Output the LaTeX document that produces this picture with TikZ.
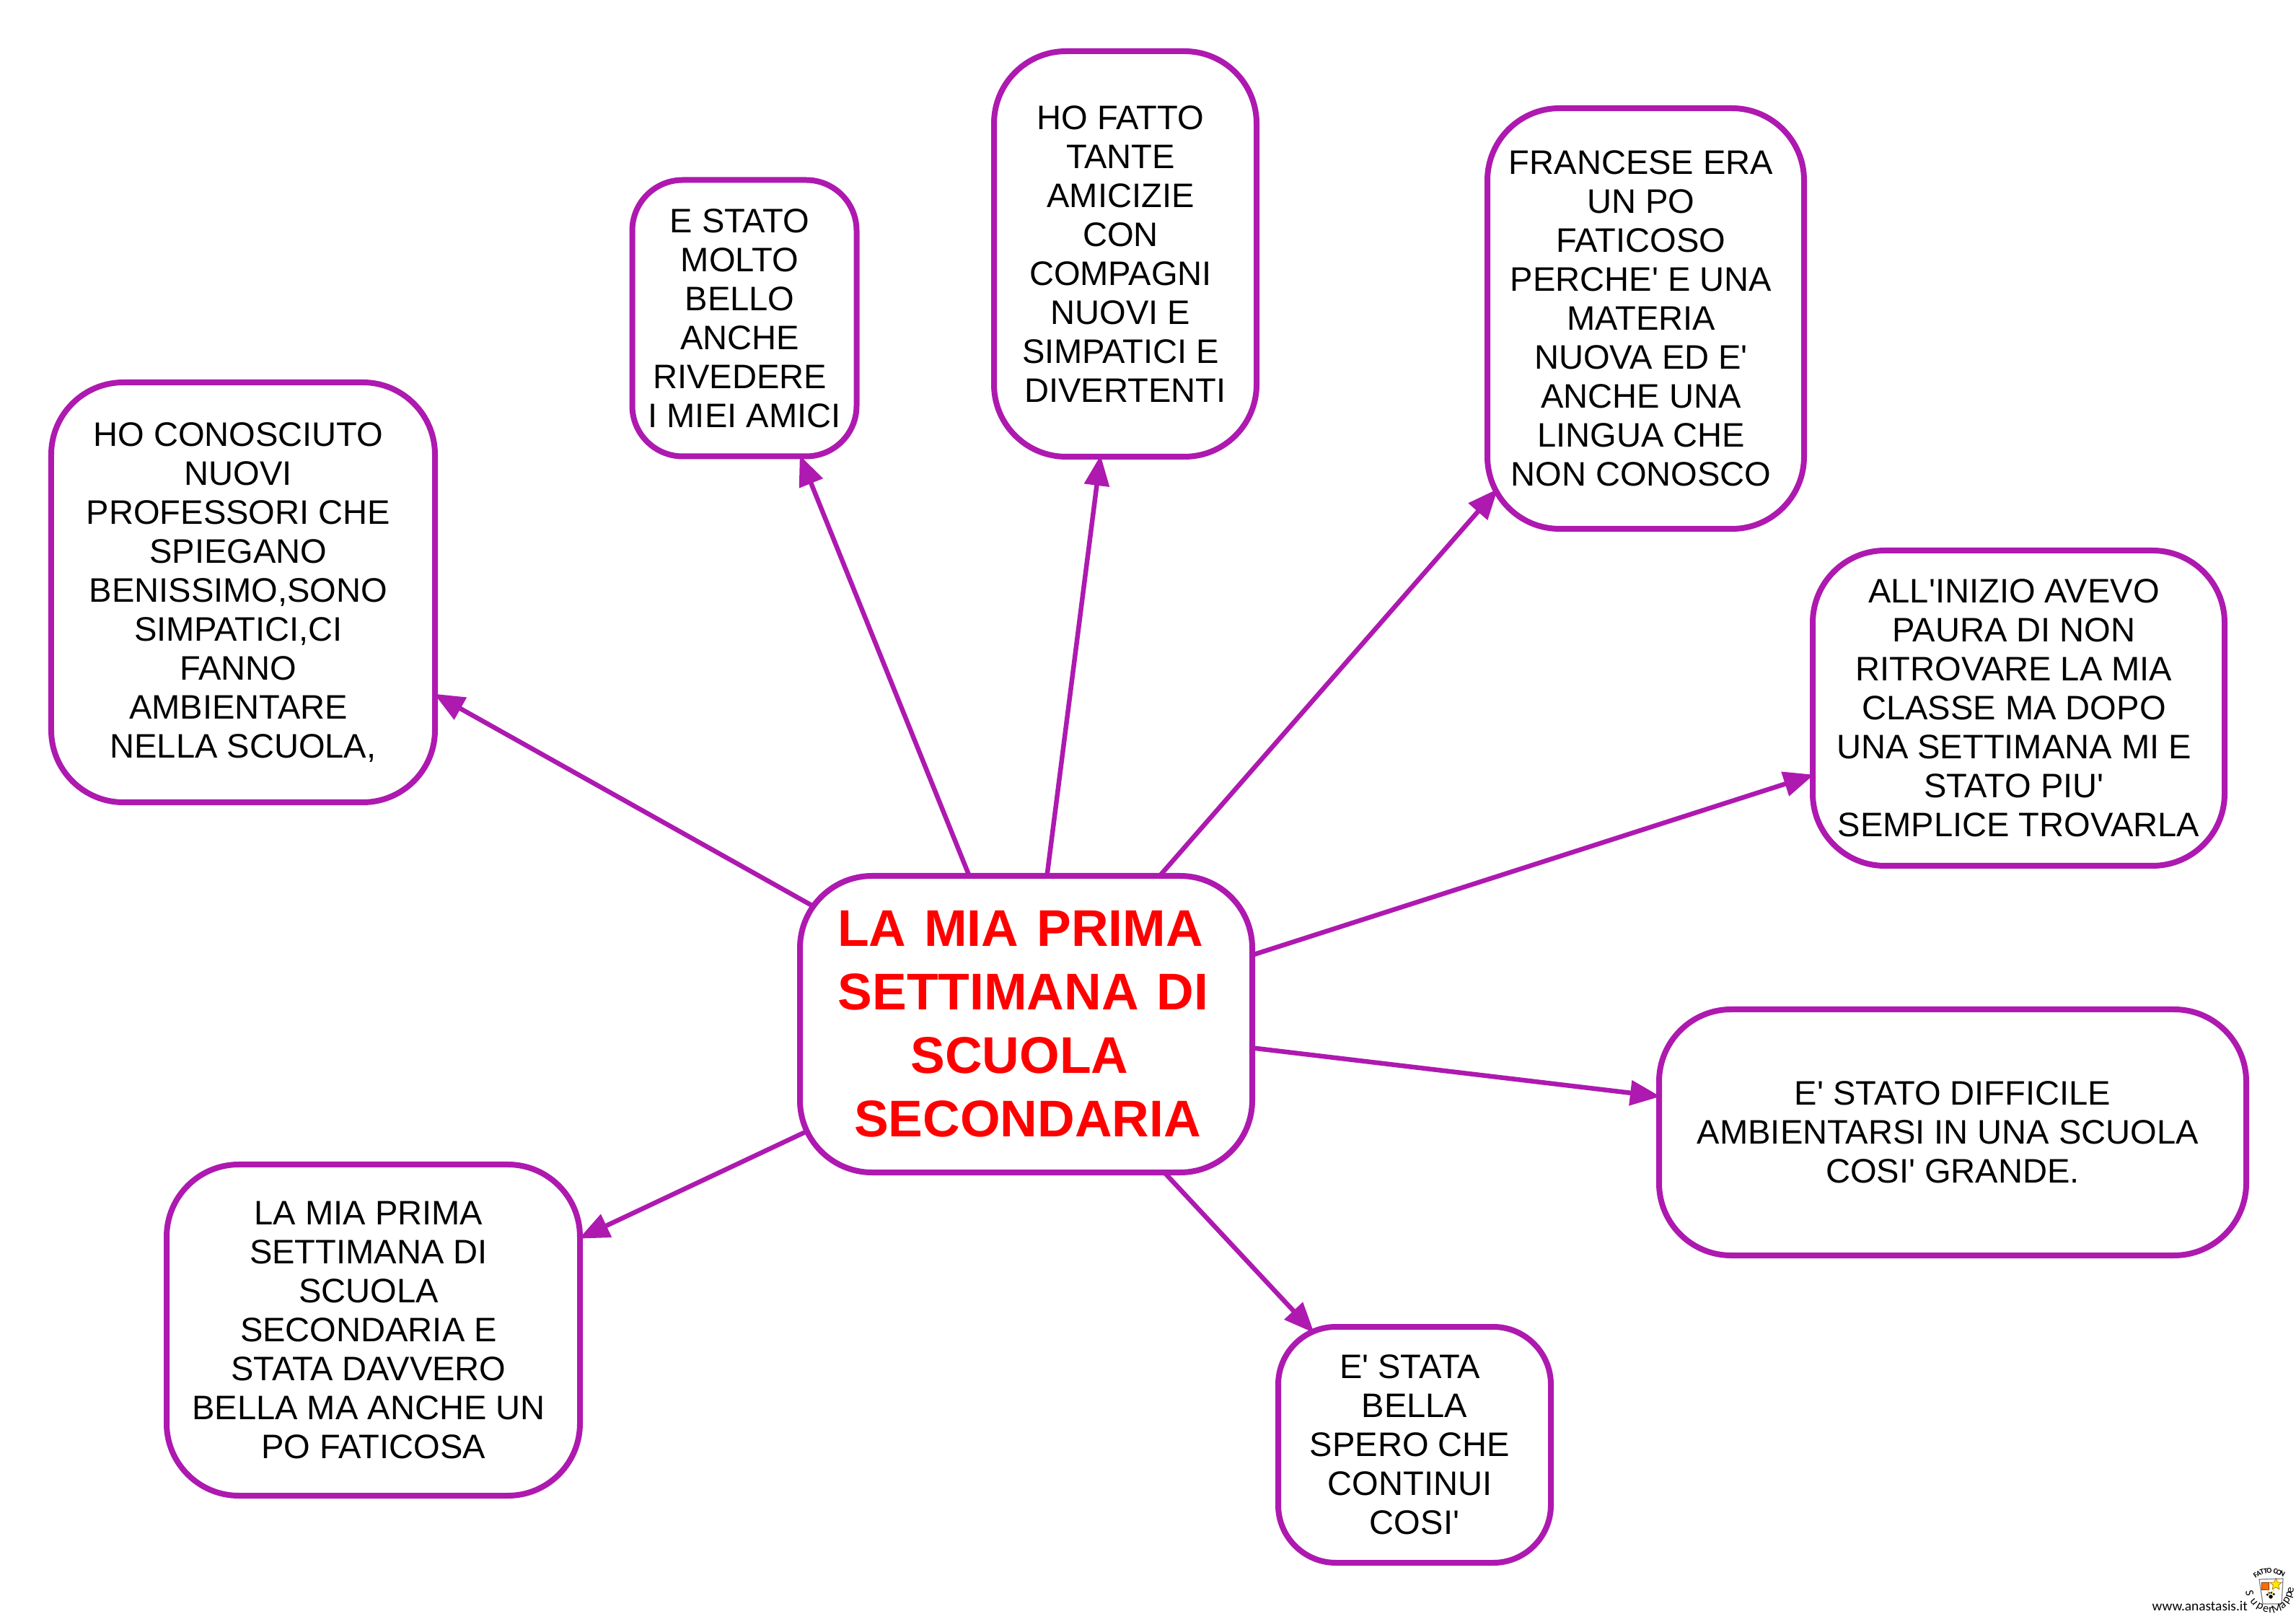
\documentclass[tikz,border=0pt]{standalone}
\usepackage{fontspec}
\setmainfont{Liberation Sans}[Ligatures=TeXOff]
\newfontfamily\logofont{Carlito}
\usepackage{tikz}
\usetikzlibrary{arrows.meta, backgrounds, shapes.geometric}

\definecolor{mapline}{RGB}{174,25,176}
\definecolor{maptitle}{RGB}{255,0,0}

% the space that each line keeps at its end, and the wide gap of the title
\newcommand{\tsp}{\kern0.13cm}
\newcommand{\wgap}{\hspace{0.25cm}}

\tikzset{
	bubble/.style={draw=mapline, line width=0.08cm, fill=white, rounded corners=1cm, align=center, inner sep=0pt,
		font=\fontsize{13.4}{15.35}\selectfont},
	rootbubble/.style={bubble, text=maptitle, font=\fontsize{20.35}{25}\selectfont\bfseries},
	link/.style={-{Triangle[length=0.42cm, width=0.34cm]}, draw=mapline, line width=0.065cm, shorten <=-0.3cm, shorten >=-0.06cm}
}

\begin{document}
\begin{tikzpicture}
	\useasboundingbox (0,0) rectangle (31.83,22.36);

	\node[rootbubble, minimum width=6.27cm, minimum height=4.11cm] (0) at (14.225,8.165) {LA\wgap MIA\wgap PRIMA\kern0.16cm\\SETTIMANA\wgap DI\kern0.08cm\\SCUOLA\kern0.18cm\\\hspace*{0.04cm}SECONDARIA};
	\node[bubble, minimum width=5.32cm, minimum height=5.82cm] (1) at (3.37,14.15) {HO CONOSCIUTO\tsp\\NUOVI\tsp\\PROFESSORI CHE\tsp\\SPIEGANO\tsp\\BENISSIMO,SONO\tsp\\SIMPATICI,CI\tsp\\FANNO\tsp\\AMBIENTARE\tsp\\NELLA SCUOLA,};
	\node[bubble, rounded corners=0.7cm, minimum width=3.11cm, minimum height=3.83cm] (2) at (10.32,17.95) {E STATO\tsp\\MOLTO\tsp\\BELLO\tsp\\ANCHE\tsp\\RIVEDERE\tsp\\I MIEI AMICI};
	\node[bubble, minimum width=3.64cm, minimum height=5.62cm] (3) at (15.6,18.84) {HO FATTO\tsp\\TANTE\tsp\\AMICIZIE\tsp\\CON\tsp\\COMPAGNI\tsp\\NUOVI E\tsp\\SIMPATICI E\tsp\\DIVERTENTI};
	\node[bubble, minimum width=4.39cm, minimum height=5.83cm] (4) at (22.815,17.945) {FRANCESE ERA\tsp\\UN PO\tsp\\FATICOSO\tsp\\PERCHE' E UNA\tsp\\MATERIA\tsp\\NUOVA ED E'\tsp\\ANCHE UNA\tsp\\LINGUA CHE\tsp\\NON CONOSCO\tsp};
	\node[bubble, minimum width=5.71cm, minimum height=4.37cm] (5) at (27.985,12.545) {ALL'INIZIO AVEVO\tsp\\PAURA DI NON\tsp\\RITROVARE LA MIA\tsp\\CLASSE MA DOPO\tsp\\UNA SETTIMANA MI E\tsp\\STATO PIU'\tsp\\SEMPLICE TROVARLA};
	\node[bubble, minimum width=8.14cm, minimum height=3.41cm] (6) at (27.07,6.665) {E' STATO DIFFICILE\\AMBIENTARSI IN UNA SCUOLA\tsp\\COSI' GRANDE.};
	\node[bubble, rounded corners=0.8cm, minimum width=3.78cm, minimum height=3.27cm] (7) at (19.61,2.335) {E' STATA\tsp\\BELLA\\SPERO CHE\tsp\\CONTINUI\tsp\\COSI'};
	\node[bubble, minimum width=5.73cm, minimum height=4.59cm] (8) at (5.175,3.925) {LA MIA PRIMA\tsp\\SETTIMANA DI\tsp\\SCUOLA\tsp\\SECONDARIA E\tsp\\STATA DAVVERO\tsp\\BELLA MA ANCHE UN\tsp\\PO FATICOSA};

	\begin{scope}[on background layer]
		\draw[link] (0.151.1) -- (1.-28.6);
		\draw[link] (0.111.6) -- (2.-68.7);
		\draw[link] (0.82.9) -- (3.-97.6);
		\draw[link, shorten >=-0.28cm] (0.48.6) -- (4.-131.4);
		\draw[link] (0.17.7) -- (5.-162.85);
		\draw[link] (0.-6.7) -- (6.173.1);
		\draw[link, shorten >=-0.17cm] (0.-47.4) -- (7.132.15);
		\draw[link] (0.-154.9) -- (8.24.5);
	\end{scope}

	% logo in the corner
	\node[inner sep=0pt, anchor=base west, font=\logofont\fontsize{5.5}{6}\selectfont] (site) at (29.83,0.04) {www.anastasis.it};
	\draw[gray, line width=0.012cm, fill=white] (31.32,0.47) -- (31.65,0.48) -- (31.63,0.13) -- (31.37,0.13) -- cycle;
	\node[star, star points=5, star point ratio=2.2, fill=yellow!90!orange, draw=orange!60!black, line width=0.005cm, inner sep=0pt, minimum size=0.17cm] (logostar) at (31.55,0.40) {};
	\node[fill=orange!85!red, draw=orange!50!black, line width=0.005cm, inner sep=0pt, minimum size=0.1cm] (logochair) at (31.40,0.38) {};
	\node[circle, fill=black, inner sep=0pt, minimum size=0.055cm] (logopaw) at (31.48,0.23) {};
	\foreach \ang in {40,80,115,150}
		\fill[black] (logopaw) ++(\ang:0.055) circle (0.016);
	\draw[yellow!80!orange, line width=0.008cm] (logochair) -- (logopaw);
	\draw[yellow!80!orange, line width=0.008cm] (logostar) -- (logopaw);
	\foreach \ch/\ang [count=\i] in {F/124,A/116,T/108,T/100,O/92,C/78,O/70,N/62}
		\node[inner sep=0pt, rotate=\ang-90, font=\logofont\fontsize{3}{3}\selectfont\bfseries] (top\i) at ([shift={(\ang:0.36)}]31.47,0.23) {\ch};
	\foreach \ch/\ang [count=\i] in {S/192,u/219,p/240,e/258,r/272,M/288,a/308,p/326,p/342,e/355}
		\node[inner sep=0pt, rotate=\ang-270, font=\logofont\fontsize{4.6}{5}\selectfont] (low\i) at ([shift={(\ang:0.29)}]31.47,0.34) {\ch};
\end{tikzpicture}
\end{document}
